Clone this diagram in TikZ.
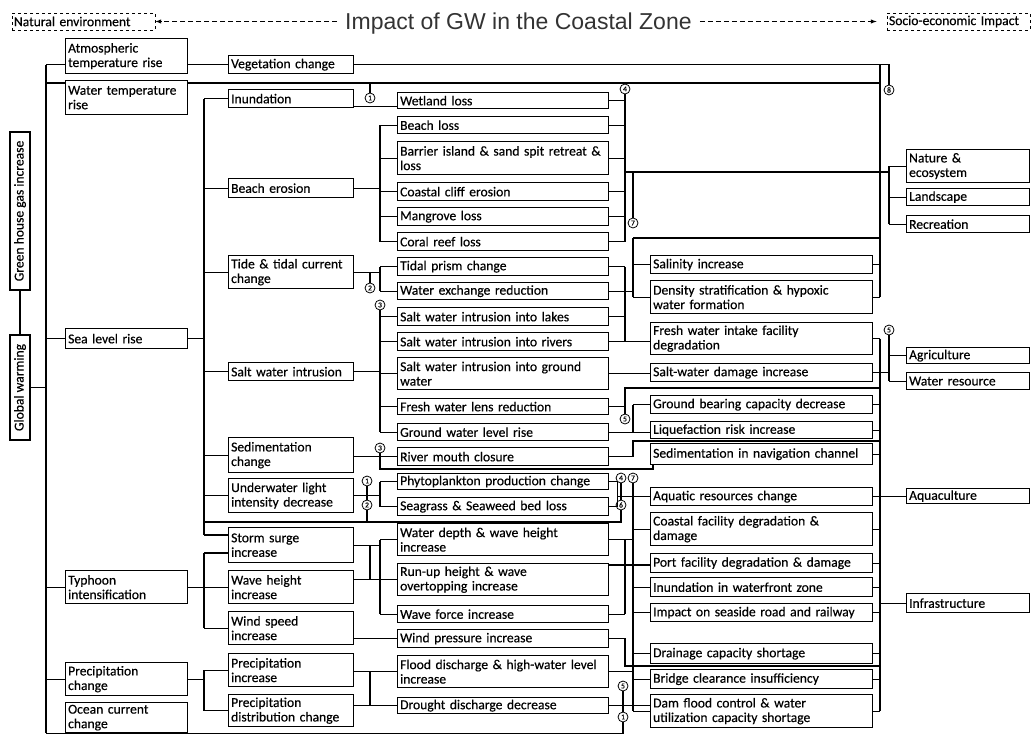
\documentclass[tikz,border=0pt]{standalone}
\usepackage{fontspec}
\setmainfont[FakeBold=0.4]{Carlito}
\newfontfamily\titlefont{Liberation Sans}
\usetikzlibrary{positioning}
\usetikzlibrary{arrows}

\tikzset{
  box/.style={draw, line width=1.3pt, anchor=north west, align=left,
    inner xsep=2.5pt, inner ysep=0pt, font=\fontsize{13.6}{14.5}\selectfont},
  colA/.style={box, text width=117pt},
  colB/.style={box, text width=120pt},
  colC/.style={box, text width=206pt},
  colD/.style={box, text width=217pt},
  colE/.style={box, text width=118pt},
  rbox/.style={draw, line width=1.3pt, rotate=90, inner sep=0pt,
    minimum height=20pt, font=\fontsize{13.6}{14}\selectfont},
  ln/.style={line width=1.1pt},
  num/.style={circle, draw, fill=white, line width=0.8pt, inner sep=0pt,
    minimum size=10pt, font=\fontsize{7.5}{7.5}\selectfont},
  tag/.style={draw, dashed, line width=0.8pt, inner xsep=2pt, inner ysep=0pt,
    minimum height=17pt, text width=139pt, align=left,
    font=\fontsize{13.6}{14}\selectfont},
  dashline/.style={dash pattern=on 5pt off 3pt, line width=1pt}
}

\begin{document}
\begin{tikzpicture}[x=1pt,y=-1pt]
\useasboundingbox (0,0) rectangle (1032,733);

% heading
\node[tag] (natenv) at (83.5,21.5) {Natural environment};
\node[tag] (socio) at (958.5,21.5) {Socio-economic Impact};
\node[anchor=base west, inner xsep=8pt, text=black!80,
  font=\titlefont\fontsize{23}{23}\selectfont] (title) at (337,30)
  {Impact of GW in the Coastal Zone};
\draw[dashline,-latex] (title.west |- natenv.east) -- (natenv.east);
\draw[dashline,-latex] (title.east |- socio.west) -- ([xshift=-10pt]socio.west);

% causes
\node[rbox, minimum width=158pt] (ghg) at (20,211) {Green house gas increase};
\node[rbox, minimum width=105pt] (gw) at (20,387.5) {Global warming};

% level 1
\node[colA, minimum height=35pt] (atm) at (65,38) {Atmospheric\\temperature rise};
\node[colA, minimum height=34pt] (wtemp) at (65,80) {Water temperature\\rise};
\node[colA, minimum height=20pt] (slr) at (65,328) {Sea level rise};
\node[colA, minimum height=33pt] (typh) at (65,570) {Typhoon\\intensification};
\node[colA, minimum height=33pt] (prec) at (65,662) {Precipitation\\change};
\node[colA, minimum height=30pt] (ocean) at (65,702) {Ocean current\\change};

% level 2
\node[colB, minimum height=18pt] (veg) at (228,55) {Vegetation change};
\node[colB, minimum height=18pt] (inund) at (228,89) {Inundation};
\node[colB, minimum height=19pt] (berosion) at (228,178) {Beach erosion};
\node[colB, minimum height=33pt] (tide) at (228,255) {Tide \& tidal current\\change};
\node[colB, minimum height=18pt] (swi) at (228,362) {Salt water intrusion};
\node[colB, minimum height=35pt] (sedc) at (228,437) {Sedimentation\\change};
\node[colB, minimum height=34pt] (uwl) at (228,478) {Underwater light\\intensity decrease};
\node[colB, minimum height=35pt] (storm) at (228,527) {Storm surge\\increase};
\node[colB, minimum height=33pt] (waveh) at (228,570) {Wave height\\increase};
\node[colB, minimum height=33pt] (wind) at (228,611) {Wind speed\\increase};
\node[colB, minimum height=33pt] (precinc) at (228,653) {Precipitation\\increase};
\node[colB, minimum height=32pt] (precdist) at (228,694) {Precipitation\\distribution change};

% level 3
\node[colC, minimum height=16pt] (wetl) at (397,92) {Wetland loss};
\node[colC, minimum height=17pt] (bloss) at (397,116) {Beach loss};
\node[colC, minimum height=33pt] (barrier) at (397,141) {Barrier island \& sand spit retreat \&\\loss};
\node[colC, minimum height=18pt] (cliff) at (397,182) {Coastal cliff erosion};
\node[colC, minimum height=18pt] (mangr) at (397,207) {Mangrove loss};
\node[colC, minimum height=18pt] (coral) at (397,232) {Coral reef loss};
\node[colC, minimum height=18pt] (prism) at (397,257) {Tidal prism change};
\node[colC, minimum height=17pt] (wexch) at (397,282) {Water exchange reduction};
\node[colC, minimum height=18pt] (swlake) at (397,307) {Salt water intrusion into lakes};
\node[colC, minimum height=18pt] (swriver) at (397,332) {Salt water intrusion into rivers};
\node[colC, minimum height=32pt] (swgw) at (397,357) {Salt water intrusion into ground\\water};
\node[colC, minimum height=16pt] (lens) at (397,398) {Fresh water lens reduction};
\node[colC, minimum height=17pt] (gwl) at (397,423) {Ground water level rise};
\node[colC, minimum height=18pt] (rmouth) at (397,447) {River mouth closure};
\node[colC, minimum height=16pt] (phyto) at (397,473) {Phytoplankton production change};
\node[colC, minimum height=18pt] (seag) at (397,497) {Seagrass \& Seaweed bed loss};
\node[colC, minimum height=32pt] (wdepth) at (397,523) {Water depth \& wave height\\increase};
\node[colC, minimum height=32pt] (runup) at (397,563) {Run-up height \& wave\\overtopping increase};
\node[colC, minimum height=17pt] (wforce) at (397,605) {Wave force increase};
\node[colC, minimum height=18pt] (wpress) at (397,629) {Wind pressure increase};
\node[colC, minimum height=32pt] (flood) at (397,655) {Flood discharge \& high-water level\\increase};
\node[colC, minimum height=16pt] (drought) at (397,697) {Drought discharge decrease};

% level 4
\node[colD, minimum height=18pt] (salin) at (650,255) {Salinity increase};
\node[colD, minimum height=33pt] (dens) at (650,280) {Density stratification \& hypoxic\\water formation};
\node[colD, minimum height=32pt] (fwi) at (650,322) {Fresh water intake facility\\degradation};
\node[colD, minimum height=18pt] (swd) at (650,363) {Salt-water damage increase};
\node[colD, minimum height=18pt] (gbc) at (650,395) {Ground bearing capacity decrease};
\node[colD, minimum height=17pt] (liq) at (650,421) {Liquefaction risk increase};
\node[colD, minimum height=21pt] (sednav) at (650,443) {Sedimentation in navigation channel};
\node[colD, minimum height=18pt] (aqua) at (650,487) {Aquatic resources change};
\node[colD, minimum height=33pt] (cfac) at (650,512) {Coastal facility degradation \&\\damage};
\node[colD, minimum height=19pt] (port) at (650,553) {Port facility degradation \& damage};
\node[colD, minimum height=19pt] (inwf) at (650,577) {Inundation in waterfront zone};
\node[colD, minimum height=18pt] (road) at (650,603) {Impact on seaside road and railway};
\node[colD, minimum height=20pt] (drain) at (650,643) {Drainage capacity shortage};
\node[colD, minimum height=19pt] (bridge) at (650,669) {Bridge clearance insufficiency};
\node[colD, minimum height=33pt] (dam) at (650,694) {Dam flood control \& water\\utilization capacity shortage};

% level 5
\node[colE, minimum height=33pt] (nature) at (906,149) {Nature \&\\ecosystem};
\node[colE, minimum height=17pt] (landsc) at (906,188) {Landscape};
\node[colE, minimum height=17pt] (recr) at (906,215) {Recreation};
\node[colE, minimum height=16pt] (agri) at (906,347) {Agriculture};
\node[colE, minimum height=17pt] (wres) at (906,372) {Water resource};
\node[colE, minimum height=15pt] (aquac) at (906,488) {Aquaculture};
\node[colE, minimum height=19pt] (infra) at (906,593) {Infrastructure};

% circled numbers
\node[num] (c1a) at (370,98) {1};
\node[num] (c2a) at (370,288) {2};
\node[num] (c3a) at (380,305) {3};
\node[num] (c3b) at (380,448) {3};
\node[num] (c1b) at (367,481) {1};
\node[num] (c2b) at (367,505) {2};
\node[num] (c4a) at (625,89) {4};
\node[num] (c7a) at (633,223) {7};
\node[num] (c5a) at (625,419) {5};
\node[num] (c4b) at (621,478) {4};
\node[num] (c7b) at (633,478) {7};
\node[num] (c6) at (621,505) {6};
\node[num] (c5b) at (623,686) {5};
\node[num] (c1d) at (623,717) {1};
\node[num] (c8) at (889,90) {8};
\node[num] (c5c) at (889,330) {5};

% bus lines
\coordinate (tr) at (46,0);
\coordinate (sb) at (204,0);
\coordinate (lb) at (370,0);
\coordinate (bb) at (380,0);
\coordinate (rl) at (625,0);
\coordinate (rm) at (633,0);
\coordinate (rb) at (880,0);
\coordinate (nb) at (889,0);
\coordinate (wt) at (0,83);

% main trunk
\draw[ln] (ghg.west) -- (gw.east);
\draw[ln] (gw.south) -- (tr |- gw.south);
\draw[ln] (tr |- veg.west) -- (tr |- ocean.south);
\draw[ln] (tr |- veg.west) -- (atm.west |- veg.west);
\draw[ln] (tr |- wt) -- (wtemp.west |- wt);
\foreach \n in {slr,typh,prec} \draw[ln] (tr |- \n.west) -- (\n.west);
\draw[ln] (tr |- ocean.south) -| (c1d.south);

% temperature
\draw[ln] (atm.east |- veg.west) -- (veg.west);
\draw[ln] (veg.east) -| (c8.north);
\draw[ln] (wtemp.east |- wt) -- (rb |- wt);
\draw[ln] (c1a.north) -- (c1a.north |- wt);

% sea level rise
\draw[ln] (slr.east) -- (sb |- slr.east);
\draw[ln] (sb |- inund.west) -- (sb |- 0,535);
\foreach \n in {inund,berosion,tide,swi,sedc,uwl} \draw[ln] (sb |- \n.west) -- (\n.west);
\draw[ln] (sb |- 0,535) -- (storm.west |- 0,535);
\draw[ln] (sb |- 0,522) -| (c6.south);

% typhoon
\draw[ln] (typh.east) -- (sb |- typh.east);
\draw[ln] (sb |- 0,553) -- (sb |- wind.west);
\draw[ln] (sb |- 0,553) -- (storm.west |- 0,553);
\foreach \n in {waveh,wind} \draw[ln] (sb |- \n.west) -- (\n.west);

% precipitation
\draw[ln] (prec.east) -- (sb |- prec.east);
\draw[ln] (sb |- precinc.west) -- (sb |- precdist.west);
\foreach \n in {precinc,precdist} \draw[ln] (sb |- \n.west) -- (\n.west);

% level 2 to level 3
\draw[ln] ([yshift=2pt]inund.south east) -- ([yshift=2pt]inund.south east -| wetl.west);
\draw[ln] (berosion.east) -- (bb |- berosion.east);
\draw[ln] (bb |- bloss.west) -- (bb |- coral.west);
\foreach \n in {bloss,barrier,cliff,mangr,coral} \draw[ln] (bb |- \n.west) -- (\n.west);
\draw[ln] (tide.east) -- (bb |- tide.east);
\draw[ln] (bb |- prism.west) -- (bb |- wexch.west);
\foreach \n in {prism,wexch} \draw[ln] (bb |- \n.west) -- (\n.west);
\draw[ln] (c2a.north) -- (c2a.north |- tide.east);
\draw[ln] (c3a.south) -- (bb |- gwl.west);
\draw[ln] (swi.east) -- (bb |- swi.east);
\foreach \n in {swlake,swriver,swgw,lens,gwl} \draw[ln] (bb |- \n.west) -- (\n.west);
\draw[ln] (sedc.east |- rmouth.west) -- (rmouth.west);
\draw[ln] (c3b.south) -- (c3b.south |- 0,469) -| ([xshift=3pt]sednav.south west);
\draw[ln] (uwl.east) -- (bb |- uwl.east);
\draw[ln] (bb |- phyto.west) -- (bb |- seag.west);
\foreach \n in {phyto,seag} \draw[ln] (bb |- \n.west) -- (\n.west);
\draw[ln] (c1b.south) -- (c1b.south |- uwl.east);
\draw[ln] (c2b.north) -- (c2b.north |- uwl.east);
\draw[ln] (c2b.south) -- (c2b.south |- 0,522);
\draw[ln] (storm.east) -- (bb |- storm.east);
\draw[ln] (bb |- wdepth.west) -- (bb |- wforce.west);
\foreach \n in {wdepth,wforce} \draw[ln] (bb |- \n.west) -- (\n.west);
\draw[ln] (lb |- storm.east) -- (lb |- runup.west);
\draw[ln] (waveh.east |- runup.west) -- (runup.west);
\draw[ln] (wind.east |- wpress.west) -- (wpress.west);
\draw[ln] (precinc.east |- flood.west) -- (flood.west);
\draw[ln] (precdist.east |- drought.west) -- (drought.west);
\draw[ln] (lb |- flood.west) -- (lb |- drought.west);

% level 3 to level 4 and 5 (upper)
\draw[ln] (c4a.south) -- (rl |- coral.east);
\foreach \n in {wetl,bloss,barrier,cliff,mangr,coral} \draw[ln] (\n.east) -- (rl |- \n.east);
\draw[ln] (rl |- 0,172) -- (nb |- 0,172);
\draw[ln] (nb |- nature.west) -- (nb |- recr.west);
\foreach \n in {nature,landsc,recr} \draw[ln] (nb |- \n.west) -- (\n.west);
\draw[ln] (rm |- 0,172) -- (c7a.north);
\draw[ln] (rm |- 0,238) -- (rb |- 0,238);
\draw[ln] (rm |- 0,238) -- (rm |- dens.west);
\foreach \n in {salin,dens} \draw[ln] (rm |- \n.west) -- (\n.west);
\draw[ln] (rl |- prism.east) -- (rl |- swriver.east);
\foreach \n in {prism,swlake} \draw[ln] (\n.east) -- (rl |- \n.east);
\draw[ln] (wexch.east) -- (rm |- wexch.east);
\draw[ln] (swriver.east) -- (swriver.east -| fwi.west);
\draw[ln] (swgw.east) -- (swgw.east -| swd.west);
\draw[ln] (lens.east) -| (rl |- 0,388) -- (rb |- 0,388);
\draw[ln] (rl |- lens.east) -- (c5a.north);
\draw[ln] (gwl.east) -- (gwl.east -| liq.west);
\draw[ln] (rm |- gbc.west) -- (rm |- gwl.east);
\draw[ln] (rm |- gbc.west) -- (gbc.west);
\draw[ln] (rmouth.east) -| (rm |- 0,441) -- (rb |- 0,441);

% level 3 to level 4 (lower)
\draw[ln] (phyto.east) -- ++(8,0) |- (aqua.west);
\draw[ln] (seag.east) -- ++(8,0) |- (aqua.west);
\draw[ln] (c4b.south) -- (c6.north);
\draw[ln] (c7b.south) -- (rm |- cfac.west);
\draw[ln] (rm |- cfac.west) -- (rm |- dam.west);
\foreach \n in {cfac,inwf,road,drain,bridge,dam} \draw[ln] (rm |- \n.west) -- (\n.west);
\draw[ln] (wdepth.east) -- (rm |- wdepth.east);
\draw[ln] (rl |- wdepth.east) -- (rl |- wforce.east);
\draw[ln] (wforce.east) -- (rl |- wforce.east);
\draw[ln] ([yshift=-2pt]runup.north east) -- ([yshift=-2pt]runup.north east -| port.west);
\draw[ln] (wpress.east) -| (rl |- 0,666) -- (rb |- 0,666);
\draw[ln] (flood.east) -- (rm |- flood.east);
\draw[ln] (drought.east) -- (drought.east -| dam.west);
\draw[ln] (c5b.south) -- (c1d.north);

% right bus
\draw[ln] (rb |- veg.east) -- (rb |- dens.east);
\foreach \n in {salin,dens} \draw[ln] (\n.east) -- (rb |- \n.east);
\draw[ln] (rb |- fwi.east) -- (rb |- dam.east);
\foreach \n in {fwi,gbc,liq,sednav,cfac,port,inwf,road,drain,bridge,dam} \draw[ln] (\n.east) -- (rb |- \n.east);
\draw[ln] (swd.east) -- (nb |- swd.east);
\draw[ln] (c5c.south) -- (nb |- wres.west);
\foreach \n in {agri,wres} \draw[ln] (nb |- \n.west) -- (\n.west);
\draw[ln] (aqua.east) -- (aqua.east -| aquac.west);
\draw[ln] (rb |- infra.west) -- (infra.west);

\end{tikzpicture}
\end{document}
